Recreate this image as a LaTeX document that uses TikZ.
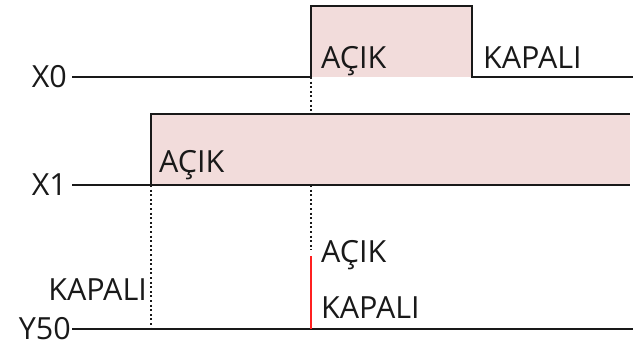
\documentclass[tikz,border=0pt]{standalone}
\usepackage{fontspec}
\setmainfont{Open Sans}
\definecolor{pulsefill}{HTML}{F2DCDB}
\definecolor{sigred}{HTML}{FF2020}
\begin{document}
\begin{tikzpicture}[x=1pt,y=1pt,
  sig/.style={line width=2.6pt,black!90},
  guide/.style={line width=2.2pt,black!90,dash pattern=on 2pt off 2.6pt},
  lbl/.style={inner sep=0pt,font=\fontsize{30.5}{31}\selectfont,text=black!90}]
\useasboundingbox (0,0) rectangle (643,346);
% key points of the timing chart
\coordinate (x0s) at (72,269);
\coordinate (x0r) at (311,269);
\coordinate (x0rt) at (311,340);
\coordinate (x0ft) at (472,340);
\coordinate (x0f) at (472,269);
\coordinate (x0e) at (633,269);
\coordinate (x1s) at (72,161);
\coordinate (x1r) at (151,161);
\coordinate (x1rt) at (151,232);
\coordinate (x1te) at (630,232);
\coordinate (x1e) at (630,161);
\coordinate (y5s) at (72,17);
\coordinate (y5r) at (311,17);
\coordinate (y5rt) at (311,90);
\coordinate (y5e) at (633,17);
\coordinate (g1a) at (311,232);
\coordinate (g1b) at (311,161);
\coordinate (g1c) at (311,96);
\coordinate (g2a) at (151,17);
% shaded ON regions
\fill[pulsefill] (x0r) rectangle (x0ft);
\fill[pulsefill] (x1r) rectangle (x1te);
% signal traces
\draw[sig] (x0s) -- (x0r) -- (x0rt) -- (x0ft) -- (x0f) -- (x0e);
\draw[sig] (x1s) -- (x1r) -- (x1rt) -- (x1te);
\draw[sig] (x1s) -- (x1e);
\draw[sig] (y5s) -- (y5e);
\draw[line width=2.2pt,sigred] (y5r) -- (y5rt);
% dotted guide lines
\draw[guide] (x0r) -- (g1a);
\draw[guide] (g1b) -- (g1c);
\draw[guide] (x1r) -- (g2a);
% labels
\node[lbl,anchor=east] (lx0) at (67,269) {X0};
\node[lbl,anchor=east] (lx1) at (67,161) {X1};
\node[lbl,anchor=east] (ly5) at (71,17) {Y50};
\node[lbl,anchor=base west] (t1) at (321,277) {AÇIK};
\node[lbl,anchor=base west] (t2) at (483,277) {KAPALI};
\node[lbl,anchor=base west] (t3) at (159,173) {AÇIK};
\node[lbl,anchor=base west] (t4) at (321,84) {AÇIK};
\node[lbl,anchor=base west] (t5) at (321,28) {KAPALI};
\node[lbl,anchor=base east] (t6) at (147,46) {KAPALI};
\end{tikzpicture}
\end{document}
